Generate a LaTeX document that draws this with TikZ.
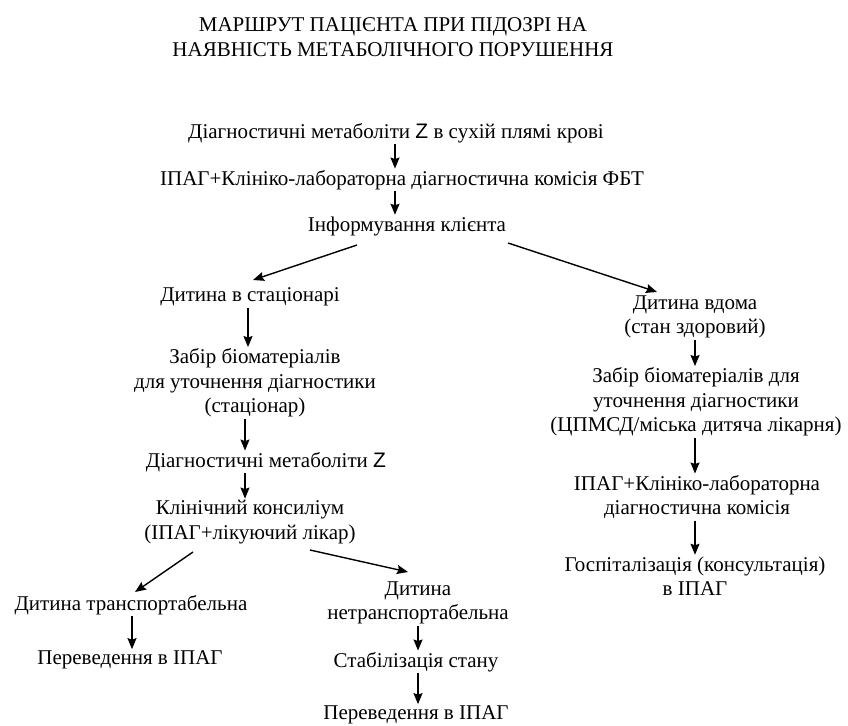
\documentclass[tikz,border=0pt]{standalone}
\usepackage{fontspec}
\setmainfont{Liberation Serif}
\newfontfamily\zfont{Liberation Sans}
\usetikzlibrary{arrows.meta,calc,positioning}

\begin{document}
\begin{tikzpicture}[x=1pt, y=-1pt]
		\tikzstyle{every node}=[font=\fontsize{21}{24.5}\selectfont, align=center, inner sep=1.5pt]
		\tikzstyle{arr}=[line width=1.4pt, -{Stealth[length=11pt, width=9pt, inset=1.5pt]}]
		\useasboundingbox (0,0) rectangle (848,725);
		% title
		\node (title) at (393,37) {МАРШРУТ ПАЦІЄНТА ПРИ ПІДОЗРІ НА\\НАЯВНІСТЬ МЕТАБОЛІЧНОГО ПОРУШЕННЯ};
		% main stem
		\node (dbs) at (396,133) {Діагностичні метаболіти {\zfont Z} в сухій плямі крові};
		\node (ipag) at (402,180) {ІПАГ+Клініко-лабораторна діагностична комісія ФБТ};
		\node (info) at (407,226) {Інформування клієнта};
		% left branch
		\node (hosp) at (250,297) {Дитина в стаціонарі};
		\node (biol) at (255,383) {Забір біоматеріалів\\для уточнення діагностики\\(стаціонар)};
		\node (metz) at (266,462) {Діагностичні метаболіти {\zfont Z}};
		\node (cons) at (250,522) {Клінічний консиліум\\(ІПАГ+лікуючий лікар)};
		\node (trans) at (131,605) {Дитина транспортабельна};
		\node (move1) at (130,660) {Переведення в ІПАГ};
		\node (ntrans) at (418,603) {Дитина\\нетранспортабельна};
		\node (stab) at (416,662) {Стабілізація стану};
		\node (move2) at (416,715) {Переведення в ІПАГ};
		% right branch
		\node (home) at (695,317) {Дитина вдома\\(стан здоровий)};
		\node (bior) at (696,402) {Забір біоматеріалів для\\уточнення діагностики\\(ЦПМСД/міська дитяча лікарня)};
		\node (ipagr) at (697,497) {ІПАГ+Клініко-лабораторна\\діагностична комісія};
		\node (gosp) at (695,576) {Госпіталізація (консультація)\\в ІПАГ};
		% arrows
		\draw [arr] (dbs.south -| 395,0) -- (ipag.north -| 395,0);
		\draw [arr] (ipag.south -| 395,0) -- (info.north -| 395,0);
		\draw [arr] ($(info)+(-50,19)$) -- ($(hosp)+(3,-17)$);
		\draw [arr] ($(info)+(101,17)$) -- ($(home)+(-38,-25)$);
		\draw [arr] (hosp.south -| 248,0) -- (biol.north -| 248,0);
		\draw [arr] (biol.south -| 245,0) -- (metz.north -| 245,0);
		\draw [arr] (metz.south -| 245,0) -- (cons.north -| 245,0);
		\draw [arr] ($(cons)+(-57,30)$) -- ($(trans)+(4,-13)$);
		\draw [arr] ($(cons)+(60,28)$) -- ($(ntrans)+(-10,-31)$);
		\draw [arr] (trans.south -| 132,0) -- (move1.north -| 132,0);
		\draw [arr] (ntrans.south -| 418,0) -- (stab.north -| 418,0);
		\draw [arr] (stab.south -| 418,0) -- (move2.north -| 418,0);
		\draw [arr] (home.south -| 695,0) -- (bior.north -| 695,0);
		\draw [arr] (bior.south -| 695,0) -- (ipagr.north -| 695,0);
		\draw [arr] (ipagr.south -| 695,0) -- (gosp.north -| 695,0);
		\end{tikzpicture}
\end{document}
